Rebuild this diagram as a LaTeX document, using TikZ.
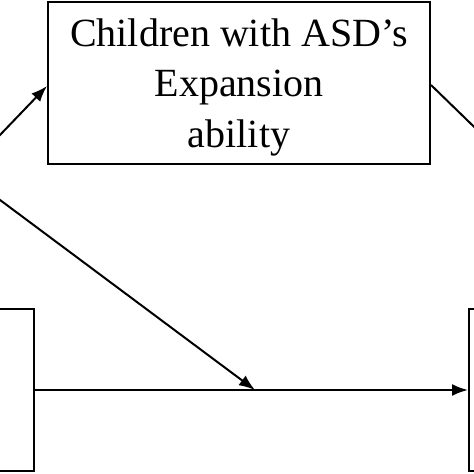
\documentclass[tikz,border=0pt]{standalone}
\usepackage{fontspec}
\setmainfont{Liberation Serif}
\usetikzlibrary{arrows.meta,calc}

\begin{document}
\begin{tikzpicture}[x=1pt,y=-1pt,
    box/.style={draw,line width=2pt,inner sep=0pt,align=center},
    conn/.style={line width=2pt,-{Latex[length=16pt,width=12pt]}}]
      \useasboundingbox (0,0) rectangle (474,474);
      \clip (0,0) rectangle (474,474);

      \node[box,minimum width=382pt,minimum height=162pt] (expansion) at (239,83) {};
      \node[align=center,font=\fontsize{40}{50.5}\selectfont] (expansiontext)
            at ($(expansion.center)+(0,4)$) {Children with ASD's\\Expansion\\ability};
      \node[box,minimum width=100pt,minimum height=162pt] (leftbox) at (-16,390) {};
      \node[box,minimum width=100pt,minimum height=162pt] (rightbox) at (519,390) {};

      \coordinate (srcA) at (-10,145.4);
      \coordinate (srcB) at (-10,192.5);
      \coordinate (sinkA) at (490,142.3);
      \coordinate (meet) at ($(leftbox.east)!0.508!(rightbox.west)$);

      \draw[conn] (srcA) -- (expansion.west |- 0,86);
      \draw[line width=2pt] (expansion.east |- 0,85) -- (sinkA);
      \draw[conn] (srcB) -- (meet);
      \draw[conn] (leftbox.east) -- (rightbox.west);
    \end{tikzpicture}
\end{document}
